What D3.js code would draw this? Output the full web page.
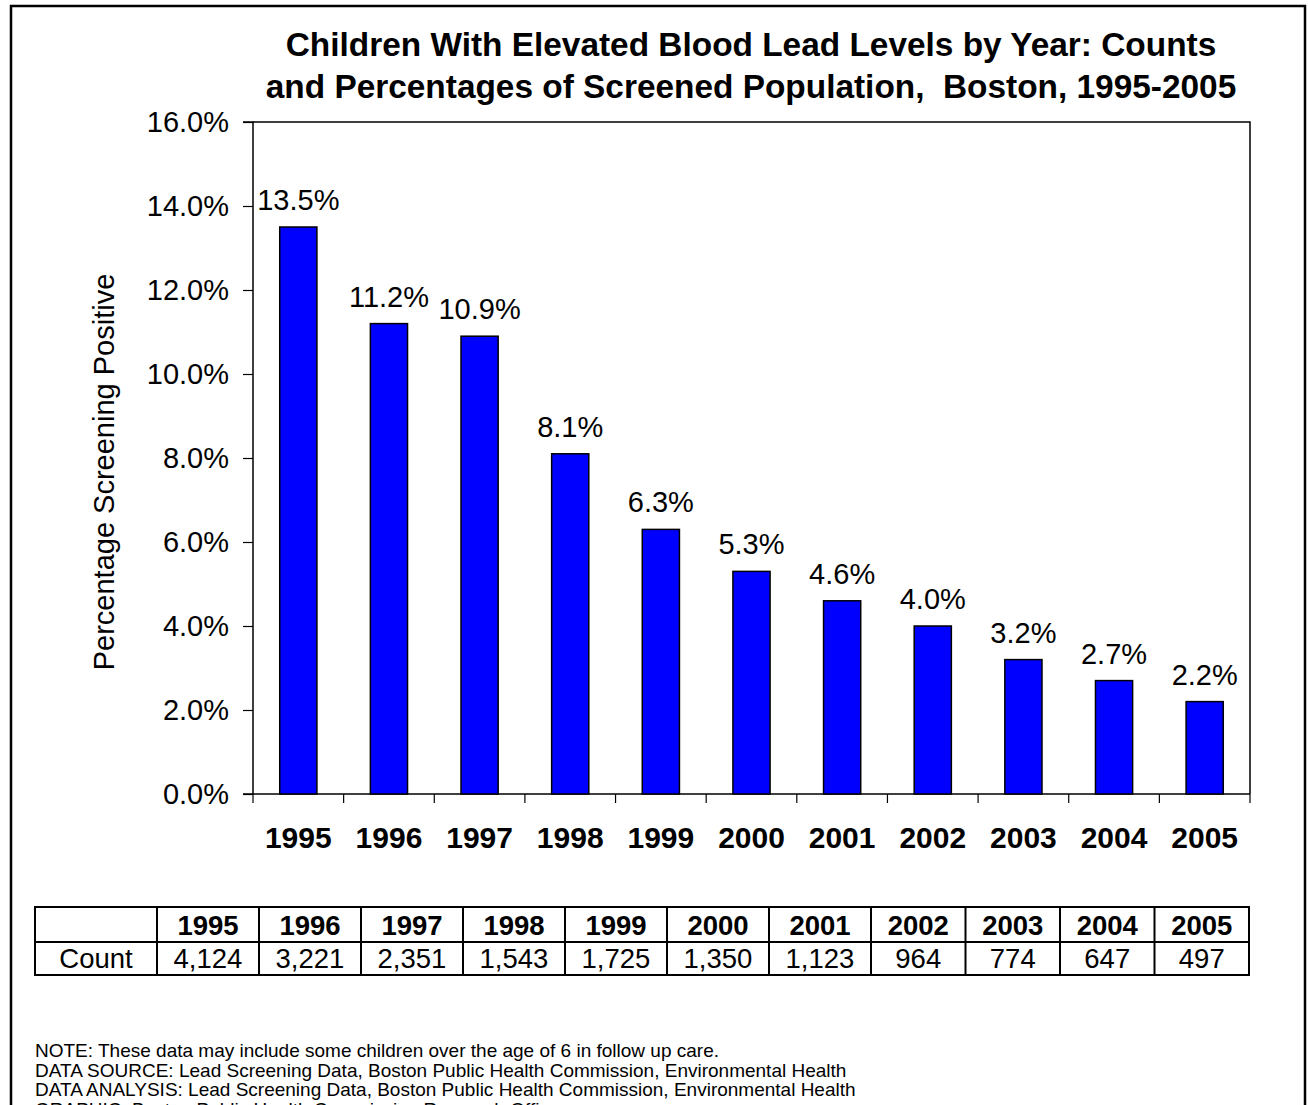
<!DOCTYPE html>
<html>
<head>
<meta charset="utf-8">
<script src="https://cdn.jsdelivr.net/npm/d3@7"></script>
<style>
  html, body { margin: 0; padding: 0; background: #fff; }
  svg { display: block; font-family: "Liberation Sans", Arial, sans-serif; }
</style>
</head>
<body>
<svg id="chart" width="1308" height="1105"></svg>
<script>
// ---- data ----
const years = ["1995","1996","1997","1998","1999","2000","2001","2002","2003","2004","2005"];
const percentages = [13.5, 11.2, 10.9, 8.1, 6.3, 5.3, 4.6, 4.0, 3.2, 2.7, 2.2];
const counts = [4124, 3221, 2351, 1543, 1725, 1350, 1123, 964, 774, 647, 497];
const yTicks = [0, 2, 4, 6, 8, 10, 12, 14, 16];
const titleLines = [
  "Children With Elevated Blood Lead Levels by Year: Counts",
  "and Percentages of Screened Population,\u00A0 Boston, 1995-2005"
];
const yAxisTitle = "Percentage Screening Positive";
const tableRowLabel = "Count";
const notes = [
  "NOTE: These data may include some children over the age of 6 in follow up care.",
  "DATA SOURCE: Lead Screening Data, Boston Public Health Commission, Environmental Health",
  "DATA ANALYSIS: Lead Screening Data, Boston Public Health Commission, Environmental Health",
  "GRAPHIC: Boston Public Health Commission Research Office"
];

// ---- layout ----
const svg = d3.select("#chart");
const plot = { left: 253, right: 1250, top: 122, bottom: 794 };

// outer frame
svg.append("rect")
  .attr("x", 11).attr("y", 6)
  .attr("width", 1294).attr("height", 1130)
  .attr("fill", "none").attr("stroke", "#000").attr("stroke-width", 2.5);

// title
const title = svg.append("text")
  .attr("text-anchor", "middle")
  .attr("font-weight", "bold")
  .attr("font-size", 33.4);
titleLines.forEach((t, i) => {
  title.append("tspan").attr("x", 751).attr("y", 56 + i * 42).text(t);
});

const x = d3.scaleBand().domain(years).range([plot.left, plot.right]).padding(0);
const y = d3.scaleLinear().domain([0, 16]).range([plot.bottom, plot.top]);

// plot frame (top & right)
svg.append("path")
  .attr("d", `M${plot.left},${plot.top}H${plot.right}V${plot.bottom}`)
  .attr("fill", "none").attr("stroke", "#000").attr("stroke-width", 1.5);

// y axis
const yAxis = d3.axisLeft(y)
  .tickValues(yTicks)
  .tickSize(10)
  .tickPadding(14)
  .tickFormat(d => d.toFixed(1) + "%");
const gy = svg.append("g").attr("transform", `translate(${plot.left},0)`).call(yAxis);
gy.select(".domain").attr("stroke", "#000").attr("stroke-width", 1.5).attr("d", `M-10,${plot.top}H0V${plot.bottom}H-10`);
gy.selectAll(".tick line").attr("stroke", "#000").attr("stroke-width", 1.2);
gy.selectAll(".tick text")
  .attr("font-size", 29)
  .attr("fill", "#000")
  .attr("font-family", "Liberation Sans, Arial, sans-serif");

// x axis (ticks at category boundaries)
const boundaries = years.map(d => x(d)).concat([plot.right]);
const gx = svg.append("g");
gx.append("line")
  .attr("x1", plot.left).attr("x2", plot.right)
  .attr("y1", plot.bottom).attr("y2", plot.bottom)
  .attr("stroke", "#000").attr("stroke-width", 1.5);
gx.selectAll("line.tk").data(boundaries).join("line")
  .attr("class", "tk")
  .attr("x1", d => d).attr("x2", d => d)
  .attr("y1", plot.bottom).attr("y2", plot.bottom + 9)
  .attr("stroke", "#000").attr("stroke-width", 1.2);
gx.selectAll("text").data(years).join("text")
  .attr("x", d => x(d) + x.bandwidth() / 2)
  .attr("y", 848)
  .attr("text-anchor", "middle")
  .attr("font-weight", "bold")
  .attr("font-size", 30)
  .text(d => d);

// y axis title
svg.append("text")
  .attr("transform", `translate(114,472) rotate(-90)`)
  .attr("text-anchor", "middle")
  .attr("font-size", 29)
  .text(yAxisTitle);

// bars
const barW = x.bandwidth() * 0.41;
const rows = years.map((yr, i) => ({ yr, v: percentages[i] }));
svg.append("g").selectAll("rect").data(rows).join("rect")
  .attr("x", d => x(d.yr) + (x.bandwidth() - barW) / 2)
  .attr("y", d => y(d.v))
  .attr("width", barW)
  .attr("height", d => y(0) - y(d.v))
  .attr("fill", "#0000FF")
  .attr("stroke", "#000")
  .attr("stroke-width", 1.5);

// value labels
svg.append("g").selectAll("text").data(rows).join("text")
  .attr("x", d => x(d.yr) + x.bandwidth() / 2)
  .attr("y", d => y(d.v) - 17)
  .attr("text-anchor", "middle")
  .attr("font-size", 29)
  .text(d => d.v.toFixed(1) + "%");

// data table
const table = { left: 35, top: 907, mid: 942, bottom: 975, firstW: 122 };
const colWidths = counts.map(c => c >= 1000 ? 102 : 94.5);
const colX = [table.left, table.left + table.firstW];
colWidths.forEach(w => colX.push(colX[colX.length - 1] + w));
const tableRight = colX[colX.length - 1];
const tg = svg.append("g");
tg.append("rect")
  .attr("x", table.left).attr("y", table.top)
  .attr("width", tableRight - table.left).attr("height", table.bottom - table.top)
  .attr("fill", "none").attr("stroke", "#000").attr("stroke-width", 2);
tg.append("line")
  .attr("x1", table.left).attr("x2", tableRight)
  .attr("y1", table.mid).attr("y2", table.mid)
  .attr("stroke", "#000").attr("stroke-width", 2);
tg.selectAll("line.v").data(colX.slice(1, -1)).join("line")
  .attr("class", "v")
  .attr("x1", d => d).attr("x2", d => d)
  .attr("y1", table.top).attr("y2", table.bottom)
  .attr("stroke", "#000").attr("stroke-width", 2);
const cells = years.map((yr, i) => ({ yr, c: counts[i], cx: (colX[i + 1] + colX[i + 2]) / 2 }));
tg.selectAll("text.h").data(cells).join("text")
  .attr("class", "h")
  .attr("x", d => d.cx).attr("y", 935)
  .attr("text-anchor", "middle")
  .attr("font-weight", "bold")
  .attr("font-size", 27.5)
  .text(d => d.yr);
tg.selectAll("text.c").data(cells).join("text")
  .attr("class", "c")
  .attr("x", d => d.cx).attr("y", 968)
  .attr("text-anchor", "middle")
  .attr("font-size", 27.5)
  .text(d => d3.format(",")(d.c));
tg.append("text")
  .attr("x", (colX[0] + colX[1]) / 2).attr("y", 968)
  .attr("text-anchor", "middle")
  .attr("font-size", 27.5)
  .text(tableRowLabel);

// notes
svg.append("g").selectAll("text").data(notes).join("text")
  .attr("x", 35)
  .attr("y", (d, i) => 1057 + i * 19.5)
  .attr("font-size", 19)
  .text(d => d);
</script>
</body>
</html>
